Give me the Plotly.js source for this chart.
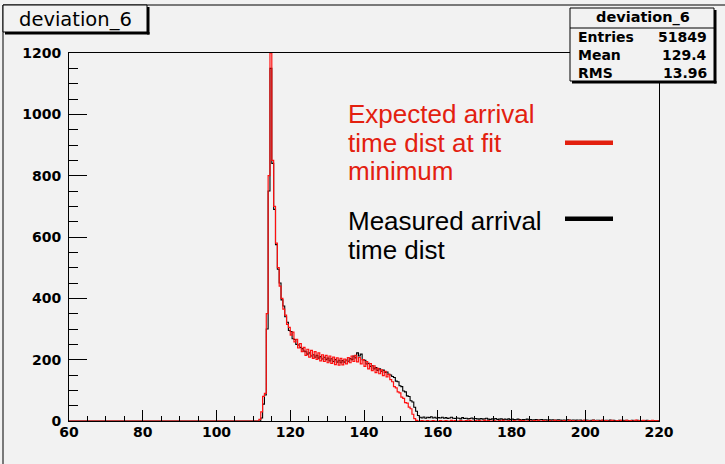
<!DOCTYPE html>
<html>
<head>
<meta charset="utf-8">
<script src="https://cdn.plot.ly/plotly-3.0.1.min.js"></script>
<style>html,body{margin:0;padding:0;background:#f2f2f2;}</style>
</head>
<body>
<div id="chart" style="width:725px;height:464px;"></div>
<script>
// ---- data (bin width 0.5, first bin starts at 60) ----
const binStart = 60;
const binWidth = 0.5;
const xTickVals = [60, 80, 100, 120, 140, 160, 180, 200, 220];
const yTickVals = [0, 200, 400, 600, 800, 1000, 1200];

// bins 60.0 .. 110.5 : empty
const leadZeros = [
  0,0,0,0,0,0,0,0,0,0,0,0,0,0,0,0,0,0,0,0,
  0,0,0,0,0,0,0,0,0,0,0,0,0,0,0,0,0,0,0,0,
  0,0,0,0,0,0,0,0,0,0,0,0,0,0,0,0,0,0,0,0,
  0,0,0,0,0,0,0,0,0,0,0,0,0,0,0,0,0,0,0,0,
  0,0,0,0,0,0,0,0,0,0,0,0,0,0,0,0,0,0,0,0,
  0,0
];
// bins 111.0 .. 160.0
const expectedMain = [
  0,5,30,80,90,350,800,1200,850,700,
  580,500,440,400,365,345,315,305,280,290,
  258,266,238,252,226,240,214,234,208,230,
  204,226,201,222,196,216,194,214,190,212,
  188,208,184,206,182,204,183,202,186,207,
  190,212,194,214,193,207,186,200,178,194,
  170,187,164,180,158,172,154,167,148,162,
  144,152,135,128,112,108,95,92,78,74,
  60,58,45,40,22,8,2,0,0,1,
  0,0,1,0,0,1,0,0,0
];
const measuredMain = [
  0,0,10,55,85,300,750,1150,840,690,
  575,495,450,395,375,340,322,295,292,268,
  266,250,248,240,236,228,226,218,222,212,
  216,208,214,205,210,202,208,200,205,196,
  203,194,200,192,198,190,197,192,199,195,
  204,200,212,206,222,212,218,200,198,186,
  188,178,180,170,174,165,170,162,166,158,
  160,152,150,145,142,130,128,115,112,98,
  95,82,80,66,62,45,32,18,12,10,
  13,9,12,11,14,10,12,9,11
];
// bins 160.5 .. 219.5 (+ closing value at 220)
const expectedTail = [
  1,0,0,1,0,0,2,0,1,0,0,1,0,0,1,0,2,0,0,1,
  0,1,0,0,2,0,1,0,0,1,0,0,1,0,2,0,0,1,0,0,
  1,0,0,2,0,1,0,0,1,0,0,1,0,2,0,0,1,0,0,1,
  0,0,2,0,1,0,0,1,0,0,2,0,1,0,0,1,0,0,2,0,
  1,0,0,2,0,1,0,0,3,0,1,0,0,2,0,0,1,0,2,0,
  0,2,0,1,0,0,3,0,1,0,2,0,0,1,0,2,0,1,0,
  0
];
const measuredTail = [
  10,12,9,11,8,10,12,9,8,10,9,7,11,8,9,7,8,10,7,8,
  7,6,8,6,7,9,6,5,7,6,8,5,6,7,5,6,4,7,5,6,
  5,4,6,5,3,5,4,6,4,5,3,4,5,3,4,5,3,4,3,4,
  3,4,2,3,4,3,2,3,2,4,3,2,3,2,3,2,3,1,2,3,
  2,1,2,3,1,2,2,1,2,1,2,1,3,1,2,1,1,2,1,2,
  1,2,1,1,2,0,1,2,1,1,0,1,2,1,0,1,1,0,1,
  1
];

const histTitle = "deviation_6";
const statLabels = ["Entries", "Mean", "RMS"];
const statValues = ["51849", "129.4", "13.96"];
const legendRed = ["Expected arrival", "time dist at fit", "minimum"];
const legendBlack = ["Measured arrival", "time dist"];

const expected = leadZeros.concat(expectedMain, expectedTail);
const measured = leadZeros.concat(measuredMain, measuredTail);

// ---- layout helpers (pixel -> paper) ----
const L = 69, R = 659, T = 53, B = 421;
const px = X => (X - L) / (R - L);
const py = Y => (B - Y) / (B - T);

const BG = '#f2f2f2';
const RED = '#e3200f';
const tickFont = {family: 'DejaVu Sans', size: 14, color: '#000', weight: 'bold'};

const traces = [
  {type: 'scatter', mode: 'lines', x0: binStart, dx: binWidth, y: measured,
   line: {color: '#000000', width: 1.1, shape: 'hv'}, hoverinfo: 'skip', showlegend: false},
  {type: 'scatter', mode: 'lines', x0: binStart, dx: binWidth, y: expected,
   line: {color: '#ff1010', width: 1.2, shape: 'hv'}, hoverinfo: 'skip', showlegend: false}
];

const shapes = [
  // pad border
  {type: 'line', xref: 'paper', yref: 'paper', x0: px(3), x1: px(3), y0: py(5), y1: py(470), line: {color: '#000', width: 1}},
  {type: 'line', xref: 'paper', yref: 'paper', x0: px(3), x1: px(730), y0: py(5), y1: py(5), line: {color: '#000', width: 1}},
  // title box + shadow
  {type: 'rect', xref: 'paper', yref: 'paper', x0: px(3), x1: px(147), y0: py(5), y1: py(32), fillcolor: BG, line: {color: '#000', width: 1}},
  {type: 'rect', xref: 'paper', yref: 'paper', x0: px(147), x1: px(149.5), y0: py(7), y1: py(34.5), fillcolor: '#000', line: {width: 0}},
  {type: 'rect', xref: 'paper', yref: 'paper', x0: px(5), x1: px(149.5), y0: py(32), y1: py(34.5), fillcolor: '#000', line: {width: 0}},
  // stats box + shadow
  {type: 'rect', xref: 'paper', yref: 'paper', x0: px(570), x1: px(714), y0: py(8), y1: py(81), fillcolor: BG, line: {color: '#000', width: 1}},
  {type: 'rect', xref: 'paper', yref: 'paper', x0: px(714), x1: px(716.5), y0: py(10), y1: py(83.5), fillcolor: '#000', line: {width: 0}},
  {type: 'rect', xref: 'paper', yref: 'paper', x0: px(572), x1: px(716.5), y0: py(81), y1: py(83.5), fillcolor: '#000', line: {width: 0}},
  {type: 'line', xref: 'paper', yref: 'paper', x0: px(570), x1: px(714), y0: py(28), y1: py(28), line: {color: '#000', width: 1}},
  // legend samples
  {type: 'rect', xref: 'paper', yref: 'paper', x0: px(565), x1: px(613), y0: py(140.5), y1: py(145), fillcolor: RED, line: {width: 0}},
  {type: 'rect', xref: 'paper', yref: 'paper', x0: px(565), x1: px(613), y0: py(216.5), y1: py(221), fillcolor: '#000', line: {width: 0}}
];

const annotations = [];
annotations.push({xref: 'paper', yref: 'paper', x: px(75), y: py(19.5), xanchor: 'center', yanchor: 'middle',
  text: histTitle, showarrow: false, font: {family: 'DejaVu Sans', size: 19.5, color: '#000'}});
annotations.push({xref: 'paper', yref: 'paper', x: px(643), y: py(17.5), xanchor: 'center', yanchor: 'middle',
  text: histTitle, showarrow: false, font: {family: 'DejaVu Sans', size: 14.5, color: '#000', weight: 'bold'}});
const statY = [37, 55, 73];
statLabels.forEach((lab, i) => {
  annotations.push({xref: 'paper', yref: 'paper', x: px(576), y: py(statY[i]), xanchor: 'left', yanchor: 'middle',
    text: lab, showarrow: false, font: {family: 'DejaVu Sans', size: 14, color: '#000', weight: 'bold'}});
  annotations.push({xref: 'paper', yref: 'paper', x: px(709), y: py(statY[i]), xanchor: 'right', yanchor: 'middle',
    text: statValues[i], showarrow: false, font: {family: 'DejaVu Sans', size: 14, color: '#000', weight: 'bold'}});
});
const redY = [114, 142.5, 171];
legendRed.forEach((t, i) => {
  annotations.push({xref: 'paper', yref: 'paper', x: px(346), y: py(redY[i]), xanchor: 'left', yanchor: 'middle',
    text: t, showarrow: false, font: {family: 'Liberation Sans', size: 26, color: RED}});
});
const blackY = [221.5, 249.5];
legendBlack.forEach((t, i) => {
  annotations.push({xref: 'paper', yref: 'paper', x: px(346), y: py(blackY[i]), xanchor: 'left', yanchor: 'middle',
    text: t, showarrow: false, font: {family: 'Liberation Sans', size: 26, color: '#000'}});
});

const layout = {
  width: 725, height: 464,
  margin: {l: L, r: 725 - R, t: T, b: 464 - B, pad: 0},
  paper_bgcolor: BG, plot_bgcolor: BG,
  showlegend: false,
  xaxis: {
    range: [60, 220], tickvals: xTickVals, ticks: 'inside', ticklen: 11, tickwidth: 1, tickcolor: '#000',
    showline: true, linecolor: '#000', linewidth: 1, mirror: true, showgrid: false, zeroline: false,
    tickfont: tickFont, ticklabelstandoff: -2,
    minor: {dtick: 5, tick0: 60, ticks: 'inside', ticklen: 5.5, tickcolor: '#000', tickwidth: 1, showgrid: false}
  },
  yaxis: {
    range: [0, 1200], tickvals: yTickVals, ticks: 'inside', ticklen: 18, tickwidth: 1, tickcolor: '#000',
    showline: true, linecolor: '#000', linewidth: 1, mirror: true, showgrid: false, zeroline: false,
    tickfont: tickFont, ticklabelstandoff: 4,
    minor: {dtick: 50, tick0: 0, ticks: 'inside', ticklen: 9, tickcolor: '#000', tickwidth: 1, showgrid: false}
  },
  shapes: shapes,
  annotations: annotations
};

Plotly.newPlot('chart', traces, layout, {staticPlot: true, displayModeBar: false});
</script>
</body>
</html>
